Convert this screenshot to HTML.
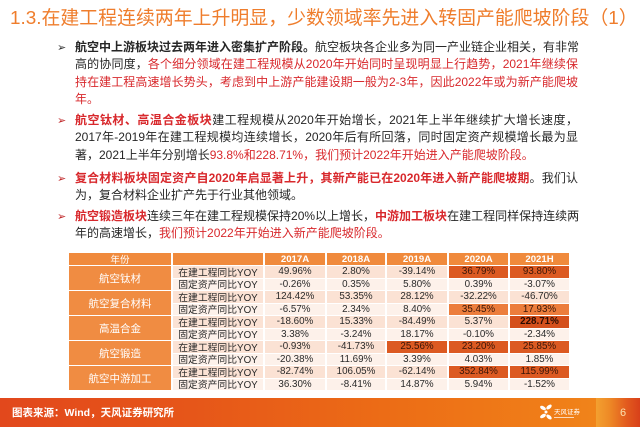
<!DOCTYPE html>
<html><head><meta charset="utf-8"><style>
*{margin:0;padding:0;box-sizing:border-box}
html,body{width:640px;height:427px;overflow:hidden;background:#fff}
body{position:relative;font-family:"Liberation Sans","Noto Sans CJK SC",sans-serif;color:#262626}
.t{position:absolute;left:10px;top:7px;width:625px;font-size:18.9px;color:#ef7d2c;white-space:nowrap;line-height:24px}
.p{position:absolute;left:75px;width:503px;font-size:12px;line-height:17.4px}
.p div{white-space:nowrap;height:17.4px}
.j{text-align:justify;text-align-last:justify}
.r{color:#d8282c}
.b{font-weight:bold}
.ar{position:absolute;left:57px;font-size:11px;font-family:"DejaVu Sans",sans-serif;line-height:17.4px}
.c{position:absolute;display:flex;align-items:center;justify-content:center;white-space:nowrap;font-size:9.8px;color:#2a2a2a}
.h{background:#f08a3c;color:#fff;font-weight:bold;font-size:9.6px}
.g{background:#f08c42;color:#fff;font-size:10.5px}
.l1{background:#fbe2d4}
.l2{background:#fdf1ea}
.d{background:#dc5a22;color:#3a1608}
.o{background:#ec7d3c;color:#3a1608}
.dd{background:#d4501c;color:#2a0c02;font-weight:bold}
.ft{position:absolute;left:0;top:398px;width:640px;height:29px;background:linear-gradient(to right,#e2481c 0%,#e65619 30%,#ec6c16 60%,#f07f18 88%,#f08a1e 100%)}
.ft2{position:absolute;left:596px;top:398px;width:44px;height:29px;background:linear-gradient(to right,#f3a030 0%,#ee8a26 30%,#e25a1e 70%,#d8401a 100%)}
</style></head><body>
<div class="t">1.3.在建工程连续两年上升明显，少数领域率先进入转固产能爬坡阶段（1）</div>

<div class="ar" style="top:39px;color:#333">➢</div>
<div class="p" style="top:39px">
<div class="j"><span class="b">航空中上游板块过去两年进入密集扩产阶段。</span>航空板块各企业多为同一产业链企业相关，有非常</div>
<div class="j">高的协同度，<span class="r">各个细分领域在建工程规模从2020年开始同时呈现明显上行趋势，2021年继续保</span></div>
<div class="j r">持在建工程高速增长势头，考虑到中上游产能建设期一般为2-3年，因此2022年或为新产能爬坡</div>
<div class="r">年。</div>
</div>

<div class="ar" style="top:112px;color:#c0282a">➢</div>
<div class="p" style="top:112px">
<div class="j"><span class="r b">航空钛材、高温合金板块</span>建工程规模从2020年开始增长，2021年上半年继续扩大增长速度，</div>
<div class="j">2017年-2019年在建工程规模均连续增长，2020年后有所回落，同时固定资产规模增长最为显</div>
<div>著，2021上半年分别增长<span class="r">93.8%和228.71%，我们预计2022年开始进入产能爬坡阶段。</span></div>
</div>

<div class="ar" style="top:170px;color:#c0282a">➢</div>
<div class="p" style="top:170px">
<div class="j"><span class="r b">复合材料板块固定资产自2020年启显著上升，其新产能已在2020年进入新产能爬坡期</span>。我们认</div>
<div>为，复合材料企业扩产先于行业其他领域。</div>
</div>

<div class="ar" style="top:208px;color:#c0282a">➢</div>
<div class="p" style="top:208px">
<div class="j"><span class="r b">航空锻造板块</span>连续三年在建工程规模保持20%以上增长，<span class="r b">中游加工板块</span>在建工程同样保持连续两</div>
<div>年的高速增长，<span class="r">我们预计2022年开始进入新产能爬坡阶段。</span></div>
</div>

<!-- table header -->
<div class="c h" style="left:69px;top:253px;width:102px;height:12px;font-weight:normal">年份</div>
<div class="c h" style="left:173px;top:253px;width:90px;height:12px"></div>
<div class="c h" style="left:265px;top:253px;width:60px;height:12px">2017A</div>
<div class="c h" style="left:327px;top:253px;width:58px;height:12px">2018A</div>
<div class="c h" style="left:387px;top:253px;width:60px;height:12px">2019A</div>
<div class="c h" style="left:449px;top:253px;width:59px;height:12px">2020A</div>
<div class="c h" style="left:510px;top:253px;width:59px;height:12px">2021H</div>

<!-- group cells -->
<div class="c g" style="left:69px;top:266px;width:102px;height:24px">航空钛材</div>
<div class="c g" style="left:69px;top:291px;width:102px;height:24px">航空复合材料</div>
<div class="c g" style="left:69px;top:316px;width:102px;height:24px">高温合金</div>
<div class="c g" style="left:69px;top:341px;width:102px;height:24px">航空锻造</div>
<div class="c g" style="left:69px;top:366px;width:102px;height:24px">航空中游加工</div>

<!-- row 1 -->
<div class="c l1" style="left:173px;top:266px;width:90px;height:11.5px">在建工程同比YOY</div>
<div class="c l1" style="left:265px;top:266px;width:60px;height:11.5px">49.96%</div>
<div class="c l1" style="left:327px;top:266px;width:58px;height:11.5px">2.80%</div>
<div class="c l1" style="left:387px;top:266px;width:60px;height:11.5px">-39.14%</div>
<div class="c d" style="left:449px;top:266px;width:59px;height:11.5px">36.79%</div>
<div class="c d" style="left:510px;top:266px;width:59px;height:11.5px">93.80%</div>
<!-- row 2 -->
<div class="c l2" style="left:173px;top:278.5px;width:90px;height:11.5px">固定资产同比YOY</div>
<div class="c l2" style="left:265px;top:278.5px;width:60px;height:11.5px">-0.26%</div>
<div class="c l2" style="left:327px;top:278.5px;width:58px;height:11.5px">0.35%</div>
<div class="c l2" style="left:387px;top:278.5px;width:60px;height:11.5px">5.80%</div>
<div class="c l2" style="left:449px;top:278.5px;width:59px;height:11.5px">0.39%</div>
<div class="c l2" style="left:510px;top:278.5px;width:59px;height:11.5px">-3.07%</div>
<!-- row 3 -->
<div class="c l1" style="left:173px;top:291px;width:90px;height:11.5px">在建工程同比YOY</div>
<div class="c l1" style="left:265px;top:291px;width:60px;height:11.5px">124.42%</div>
<div class="c l1" style="left:327px;top:291px;width:58px;height:11.5px">53.35%</div>
<div class="c l1" style="left:387px;top:291px;width:60px;height:11.5px">28.12%</div>
<div class="c l1" style="left:449px;top:291px;width:59px;height:11.5px">-32.22%</div>
<div class="c l1" style="left:510px;top:291px;width:59px;height:11.5px">-46.70%</div>
<!-- row 4 -->
<div class="c l2" style="left:173px;top:303.5px;width:90px;height:11.5px">固定资产同比YOY</div>
<div class="c l2" style="left:265px;top:303.5px;width:60px;height:11.5px">-6.57%</div>
<div class="c l2" style="left:327px;top:303.5px;width:58px;height:11.5px">2.34%</div>
<div class="c l2" style="left:387px;top:303.5px;width:60px;height:11.5px">8.40%</div>
<div class="c o" style="left:449px;top:303.5px;width:59px;height:11.5px">35.45%</div>
<div class="c o" style="left:510px;top:303.5px;width:59px;height:11.5px">17.93%</div>
<!-- row 5 -->
<div class="c l1" style="left:173px;top:316px;width:90px;height:11.5px">在建工程同比YOY</div>
<div class="c l1" style="left:265px;top:316px;width:60px;height:11.5px">-18.60%</div>
<div class="c l1" style="left:327px;top:316px;width:58px;height:11.5px">15.33%</div>
<div class="c l1" style="left:387px;top:316px;width:60px;height:11.5px">-84.49%</div>
<div class="c l1" style="left:449px;top:316px;width:59px;height:11.5px">5.37%</div>
<div class="c dd" style="left:510px;top:316px;width:59px;height:11.5px">228.71%</div>
<!-- row 6 -->
<div class="c l2" style="left:173px;top:328.5px;width:90px;height:11.5px">固定资产同比YOY</div>
<div class="c l2" style="left:265px;top:328.5px;width:60px;height:11.5px">3.38%</div>
<div class="c l2" style="left:327px;top:328.5px;width:58px;height:11.5px">-3.24%</div>
<div class="c l2" style="left:387px;top:328.5px;width:60px;height:11.5px">18.17%</div>
<div class="c l2" style="left:449px;top:328.5px;width:59px;height:11.5px">-0.10%</div>
<div class="c l2" style="left:510px;top:328.5px;width:59px;height:11.5px">-2.34%</div>
<!-- row 7 -->
<div class="c l1" style="left:173px;top:341px;width:90px;height:11.5px">在建工程同比YOY</div>
<div class="c l1" style="left:265px;top:341px;width:60px;height:11.5px">-0.93%</div>
<div class="c l1" style="left:327px;top:341px;width:58px;height:11.5px">-41.73%</div>
<div class="c d" style="left:387px;top:341px;width:60px;height:11.5px">25.56%</div>
<div class="c d" style="left:449px;top:341px;width:59px;height:11.5px">23.20%</div>
<div class="c d" style="left:510px;top:341px;width:59px;height:11.5px">25.85%</div>
<!-- row 8 -->
<div class="c l2" style="left:173px;top:353.5px;width:90px;height:11.5px">固定资产同比YOY</div>
<div class="c l2" style="left:265px;top:353.5px;width:60px;height:11.5px">-20.38%</div>
<div class="c l2" style="left:327px;top:353.5px;width:58px;height:11.5px">11.69%</div>
<div class="c l2" style="left:387px;top:353.5px;width:60px;height:11.5px">3.39%</div>
<div class="c l2" style="left:449px;top:353.5px;width:59px;height:11.5px">4.03%</div>
<div class="c l2" style="left:510px;top:353.5px;width:59px;height:11.5px">1.85%</div>
<!-- row 9 -->
<div class="c l1" style="left:173px;top:366px;width:90px;height:11.5px">在建工程同比YOY</div>
<div class="c l1" style="left:265px;top:366px;width:60px;height:11.5px">-82.74%</div>
<div class="c l1" style="left:327px;top:366px;width:58px;height:11.5px">106.05%</div>
<div class="c l1" style="left:387px;top:366px;width:60px;height:11.5px">-62.14%</div>
<div class="c d" style="left:449px;top:366px;width:59px;height:11.5px">352.84%</div>
<div class="c d" style="left:510px;top:366px;width:59px;height:11.5px">115.99%</div>
<!-- row 10 -->
<div class="c l2" style="left:173px;top:378.5px;width:90px;height:11.5px">固定资产同比YOY</div>
<div class="c l2" style="left:265px;top:378.5px;width:60px;height:11.5px">36.30%</div>
<div class="c l2" style="left:327px;top:378.5px;width:58px;height:11.5px">-8.41%</div>
<div class="c l2" style="left:387px;top:378.5px;width:60px;height:11.5px">14.87%</div>
<div class="c l2" style="left:449px;top:378.5px;width:59px;height:11.5px">5.94%</div>
<div class="c l2" style="left:510px;top:378.5px;width:59px;height:11.5px">-1.52%</div>

<!-- footer -->
<div class="ft"></div>
<div class="ft2"></div>
<div style="position:absolute;left:12px;top:405px;font-size:10.5px;font-weight:bold;color:#fff;white-space:nowrap;line-height:16px">图表来源：Wind，天风证券研究所</div>
<svg style="position:absolute;left:538px;top:402px" width="44" height="22" viewBox="0 0 44 22">
<g fill="#fff">
<ellipse cx="5" cy="6" rx="3.2" ry="1.8" transform="rotate(30 5 6)"/>
<ellipse cx="11" cy="5" rx="3.2" ry="1.8" transform="rotate(-40 11 5)"/>
<ellipse cx="5" cy="14" rx="3.2" ry="1.8" transform="rotate(-30 5 14)"/>
<ellipse cx="11" cy="15" rx="3.2" ry="1.8" transform="rotate(40 11 15)"/>
<circle cx="8" cy="10" r="1.5"/>
<text x="16" y="12" font-size="6.5" font-family="Noto Sans CJK SC,sans-serif">天风证券</text>
<rect x="16" y="15" width="20" height="1" opacity="0.7"/>
</g></svg>
<div style="position:absolute;left:620px;top:405px;font-size:11px;color:#fbe0b0;line-height:16px">6</div>
</body></html>
